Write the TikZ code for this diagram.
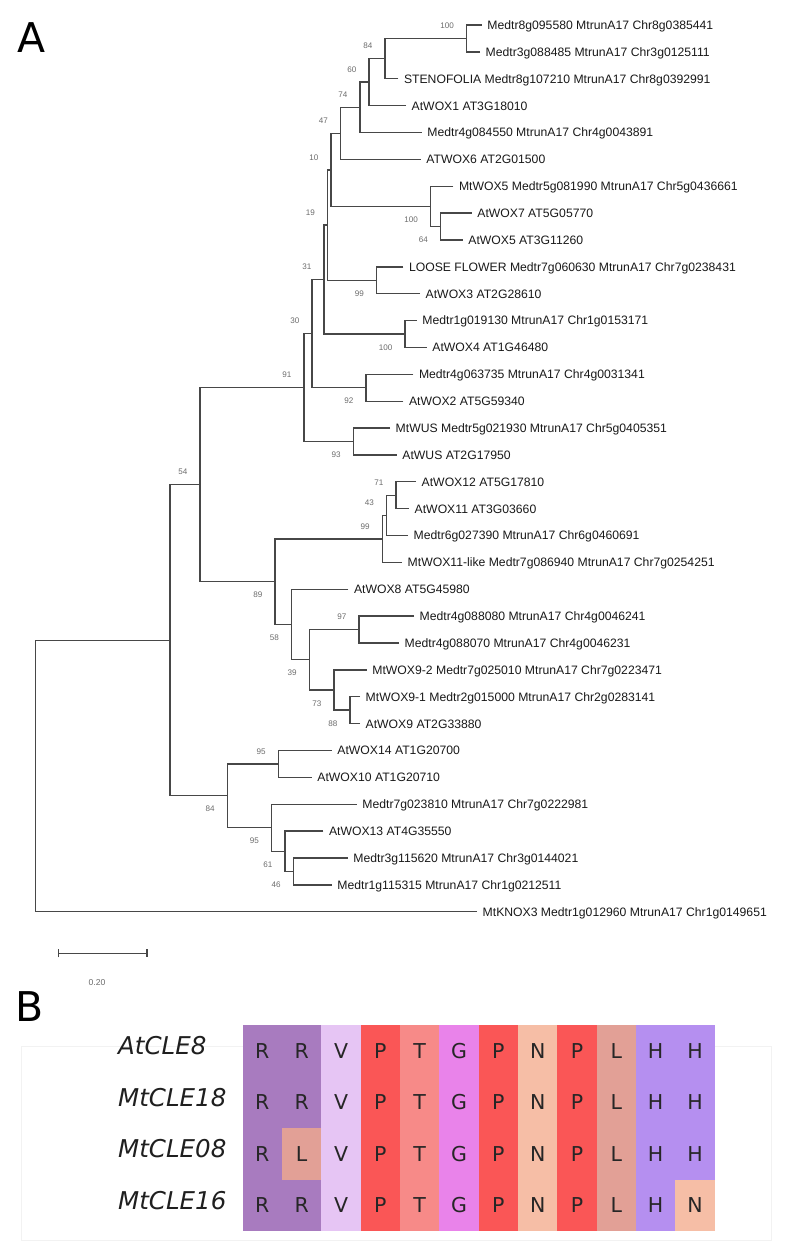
\documentclass[tikz,border=0pt]{standalone}
\usepackage{fontspec}
\setmainfont{Liberation Sans}
\newfontfamily\alnfont{DejaVu Sans}
\usetikzlibrary{arrows.meta}
% residue colours of panel B
\definecolor{resR}{HTML}{A87BBF}
\definecolor{resL}{HTML}{E2A096}
\definecolor{resV}{HTML}{E6C5F4}
\definecolor{resP}{HTML}{FA5656}
\definecolor{resT}{HTML}{F78A88}
\definecolor{resG}{HTML}{E983EA}
\definecolor{resN}{HTML}{F6BEA6}
\definecolor{resH}{HTML}{B58FF0}
\begin{document}
\begin{tikzpicture}[x=1pt, y=-1pt,
    branch/.style={draw=black!72, line width=1.35pt},
    leaf/.style={anchor=base west, inner sep=0pt, xshift=5.5pt, yshift=-4.4pt, text=black!90, font=\fontsize{12.2}{14}\selectfont},
    boot/.style={anchor=base east, inner sep=0pt, xshift=-12.5pt, text=black!58, font=\fontsize{8.1}{9}\selectfont},
    cell/.style={minimum width=39.33pt, minimum height=51.5pt, inner sep=0pt, text=black!85, font=\alnfont\fontsize{20.5}{22}\selectfont},
    rowname/.style={anchor=west, inner sep=0pt, text=black!88, font=\alnfont\itshape\fontsize{24.5}{26}\selectfont}]
        \useasboundingbox (0,0) rectangle (785,1242);

        % Panel letters
        \node[font=\alnfont\fontsize{41}{41}\selectfont] (pA) at (32,38) {A};
        \node[font=\alnfont\fontsize{41}{41}\selectfont] (pB) at (30,1007) {B};

        % Tips
        \foreach \i/\x/\lab in {1/481.7/Medtr8g095580 MtrunA17 Chr8g0385441, 2/480/Medtr3g088485 MtrunA17 Chr3g0125111,
            3/398.3/STENOFOLIA Medtr8g107210 MtrunA17 Chr8g0392991, 4/406/AtWOX1 AT3G18010,
            5/421.7/Medtr4g084550 MtrunA17 Chr4g0043891, 6/420.7/ATWOX6 AT2G01500,
            7/453.3/MtWOX5 Medtr5g081990 MtrunA17 Chr5g0436661, 8/471.7/AtWOX7 AT5G05770, 9/462.7/AtWOX5 AT3G11260,
            10/403.3/LOOSE FLOWER Medtr7g060630 MtrunA17 Chr7g0238431, 11/420/AtWOX3 AT2G28610,
            12/416.7/Medtr1g019130 MtrunA17 Chr1g0153171, 13/426.7/AtWOX4 AT1G46480,
            14/413.3/Medtr4g063735 MtrunA17 Chr4g0031341, 15/403.3/AtWOX2 AT5G59340,
            16/390/MtWUS Medtr5g021930 MtrunA17 Chr5g0405351, 17/396.7/AtWUS AT2G17950,
            18/416/AtWOX12 AT5G17810, 19/409/AtWOX11 AT3G03660, 20/408/Medtr6g027390 MtrunA17 Chr6g0460691,
            21/402/MtWOX11-like Medtr7g086940 MtrunA17 Chr7g0254251, 22/348.3/AtWOX8 AT5G45980,
            23/414/Medtr4g088080 MtrunA17 Chr4g0046241, 24/399/Medtr4g088070 MtrunA17 Chr4g0046231,
            25/366.7/MtWOX9-2 Medtr7g025010 MtrunA17 Chr7g0223471, 26/360/MtWOX9-1 Medtr2g015000 MtrunA17 Chr2g0283141,
            27/360/AtWOX9 AT2G33880, 28/331.7/AtWOX14 AT1G20700, 29/311.7/AtWOX10 AT1G20710,
            30/356.7/Medtr7g023810 MtrunA17 Chr7g0222981, 31/323.3/AtWOX13 AT4G35550,
            32/347.7/Medtr3g115620 MtrunA17 Chr3g0144021, 33/331.7/Medtr1g115315 MtrunA17 Chr1g0212511,
            34/477/MtKNOX3 Medtr1g012960 MtrunA17 Chr1g0149651}
        {
            \coordinate (t\i) at (\x,{25+(\i-1)*26.87});
            \node[leaf] (l\i) at (t\i) {\lab};
        }

        % Internal nodes
        \foreach \n/\x/\y in {n100a/466.7/38.45, n84/385/58.6, n60/369/82.1, n74/360/107.3, n47/340.7/133.35,
            n64/440.7/226.55, n100b/430.7/206.4, n10/331/169.9, n99a/376.7/280.25, n19/327.5/225.1,
            n100c/405/334, n31/324/279.55, n92/366/387.75, n30/312/333.65, n93/353.3/441.5, n91/304/387.6,
            n71/396/495.25, n43/386.7/515.4, n99b/382.3/538.9, n97/359/629.55, n88/350/710.15, n73/334/690,
            n39/309.3/659.8, n58/291.7/624.55, n89/275/581.7, n54/200/484.65,
            n95a/278.3/763.95, n46/293.3/871.4, n61/285/851.25, n95b/271.7/827.7, n84b/227.3/795.8,
            nin/170/640.2, root/35.7/775.95}
            \coordinate (\n) at (\x,\y);

        % Branches, child to parent
        \foreach \a/\b in {t1/n100a, t2/n100a, n100a/n84, t3/n84, n84/n60, t4/n60, n60/n74, t5/n74, n74/n47, t6/n47,
            t8/n64, t9/n64, t7/n100b, n64/n100b, n47/n10, n100b/n10, t10/n99a, t11/n99a, n10/n19, n99a/n19,
            t12/n100c, t13/n100c, n19/n31, n100c/n31, t14/n92, t15/n92, n31/n30, n92/n30,
            t16/n93, t17/n93, n30/n91, n93/n91, t18/n71, t19/n71, n71/n43, t20/n43, n43/n99b, t21/n99b,
            t23/n97, t24/n97, t26/n88, t27/n88, t25/n73, n88/n73, n97/n39, n73/n39, t22/n58, n39/n58,
            n99b/n89, n58/n89, n91/n54, n89/n54, t28/n95a, t29/n95a, t32/n46, t33/n46, t31/n61, n46/n61,
            t30/n95b, n61/n95b, n95a/n84b, n95b/n84b, n54/nin, n84b/nin, nin/root, t34/root}
            \draw[branch] (\a) -| (\b);

        % Bootstrap values (9.9 above, -16.1 below)
        \foreach \n/\v/\s in {n100a/100/9.9, n84/84/9.9, n60/60/9.9, n74/74/9.9, n47/47/9.9, n10/10/9.9, n19/19/9.9,
            n100b/100/-16.1, n64/64/-16.1, n31/31/9.9, n99a/99/-16.1, n30/30/9.9, n100c/100/-16.1, n91/91/9.9,
            n92/92/-16.1, n93/93/-16.1, n54/54/9.9, n71/71/9.9, n43/43/9.9, n99b/99/9.9, n89/89/-16.1,
            n97/97/9.9, n58/58/-16.1, n39/39/-16.1, n73/73/-16.1, n88/88/-16.1, n95a/95/9.9,
            n84b/84/-16.1, n95b/95/-16.1, n61/61/-16.1, n46/46/-16.1}
            \node[boot, yshift=\s pt] (b\n) at (\n) {\v};

        % Scale bar
        \coordinate (sb1) at (57.7,953.3);
        \coordinate (sb2) at (147.7,953.3);
        \draw[branch, {Bar[width=8pt]}-{Bar[width=8pt]}] (sb1) -- (sb2);
        \node[text=black!58, font=\fontsize{8.6}{9}\selectfont] (sbl) at (97,982.3) {0.20};

        % Panel B frame
        \draw[black!5] (21,1046.5) rectangle (771,1240);

        % Alignment
        \foreach \seq [count=\r] in {{R,R,V,P,T,G,P,N,P,L,H,H},{R,R,V,P,T,G,P,N,P,L,H,H},
            {R,L,V,P,T,G,P,N,P,L,H,H},{R,R,V,P,T,G,P,N,P,L,H,N}}
            \foreach \aa [count=\c] in \seq
                \node[cell, fill=res\aa] (c\r-\c) at ({242.7+(\c-0.5)*39.33},{1025+(\r-0.5)*51.5}) {\aa};

        \foreach \lab [count=\r] in {AtCLE8,MtCLE18,MtCLE08,MtCLE16}
            \node[rowname] (name\r) at (118,{1020+(\r-0.5)*51.5}) {\lab};
      \end{tikzpicture}
\end{document}
